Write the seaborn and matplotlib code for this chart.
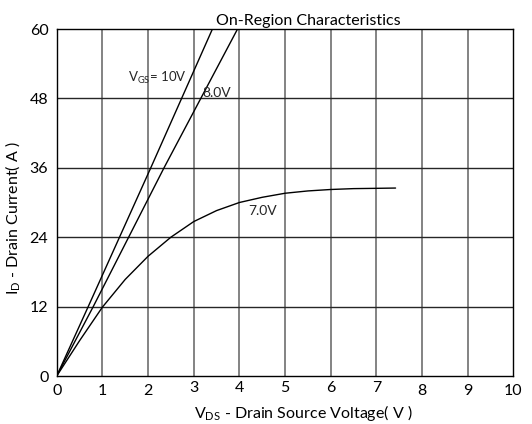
import numpy as np
import pandas as pd
import matplotlib
matplotlib.use("Agg")
import matplotlib.pyplot as plt
import matplotlib.transforms as mtransforms
import seaborn as sns

# Data
vds_10v = [0.0, 0.69, 2.06, 3.41]
id_10v = [0.0, 12.0, 36.0, 60.0]
vds_8v = [0.0, 0.80, 2.35, 3.96]
id_8v = [0.0, 12.0, 36.0, 60.0]
vds_7v = [0.0, 0.5, 1.0, 1.5, 2.0, 2.5, 3.0, 3.5, 4.0, 4.5, 5.0, 5.5, 6.0, 6.5, 7.0, 7.42]
id_7v = [0.0, 6.1, 11.9, 16.7, 20.7, 24.0, 26.7, 28.6, 30.0, 30.9, 31.6, 32.0, 32.25, 32.4, 32.45, 32.5]
series_names = ["10V", "8.0V", "7.0V"]
x_ticks = [0, 1, 2, 3, 4, 5, 6, 7, 8, 9, 10]
y_ticks = [0, 12, 24, 36, 48, 60]

frames = []
for name, vx, iy in zip(series_names, [vds_10v, vds_8v, vds_7v], [id_10v, id_8v, id_7v]):
    frames.append(pd.DataFrame({"VDS": vx, "ID": iy, "VGS": name}))
df = pd.concat(frames, ignore_index=True)

sns.set_theme(style="white")
plt.rcParams['font.family'] = ['Lato', 'DejaVu Sans']
plt.rcParams['mathtext.fontset'] = 'custom'
plt.rcParams['mathtext.rm'] = 'Lato'

fig = plt.figure(figsize=(5.32, 4.24), dpi=100)
ax = fig.add_axes([0.1066, 0.1132, 0.8584, 0.8184])

sns.lineplot(data=df, x="VDS", y="ID", hue="VGS", palette=["black"] * 3,
             estimator=None, sort=False, linewidth=1.0, legend=False, ax=ax)

ax.set_xlim(0, 10)
ax.set_ylim(0, 60)
ax.set_xticks(x_ticks)
ax.set_yticks(y_ticks)
ax.set_xticklabels([str(t) for t in x_ticks], fontsize=11.5)
ax.set_yticklabels([str(t) for t in y_ticks], fontsize=11.5)
ax.tick_params(length=0, pad=6, colors="black")

for x in x_ticks[1:-1]:
    ax.axvline(x, color="#6e6e6e", linewidth=1.2, zorder=0)
for y in y_ticks[1:-1]:
    ax.axhline(y, color="#262626", linewidth=1.0, zorder=0)

for s in ax.spines.values():
    s.set_color("black")
    s.set_linewidth(1.0)
    s.set_visible(True)

# staggered x tick labels as in reference
for lab in ax.get_xticklabels():
    if lab.get_text() in ["3", "4", "5", "6", "7"]:
        lab.set_transform(lab.get_transform() + mtransforms.ScaledTranslation(0, 3.5 / 100, fig.dpi_scale_trans))

ax.set_xlabel(r"$\mathregular{V_{DS}}$ - Drain Source Voltage( V )", fontsize=11.5, labelpad=0, color="black")
ax.xaxis.set_label_coords(0.54, -0.077)
ax.set_ylabel(r"$\mathregular{I_D}$ - Drain Current( A )", fontsize=11.5, color="black")
ax.yaxis.set_label_coords(-0.075, 0.455)
ax.set_title("On-Region Characteristics", fontsize=11.5, x=0.55, pad=3, color="black")

ax.text(1.57, 51.6, r"$\mathregular{V_{GS}}$= 10V", fontsize=9.5, va="center", ha="left")
ax.text(3.2, 48.9, "8.0V", fontsize=10, va="center", ha="left")
ax.text(4.2, 28.6, "7.0V", fontsize=10, va="center", ha="left")

fig.savefig("out.png", dpi=100)
